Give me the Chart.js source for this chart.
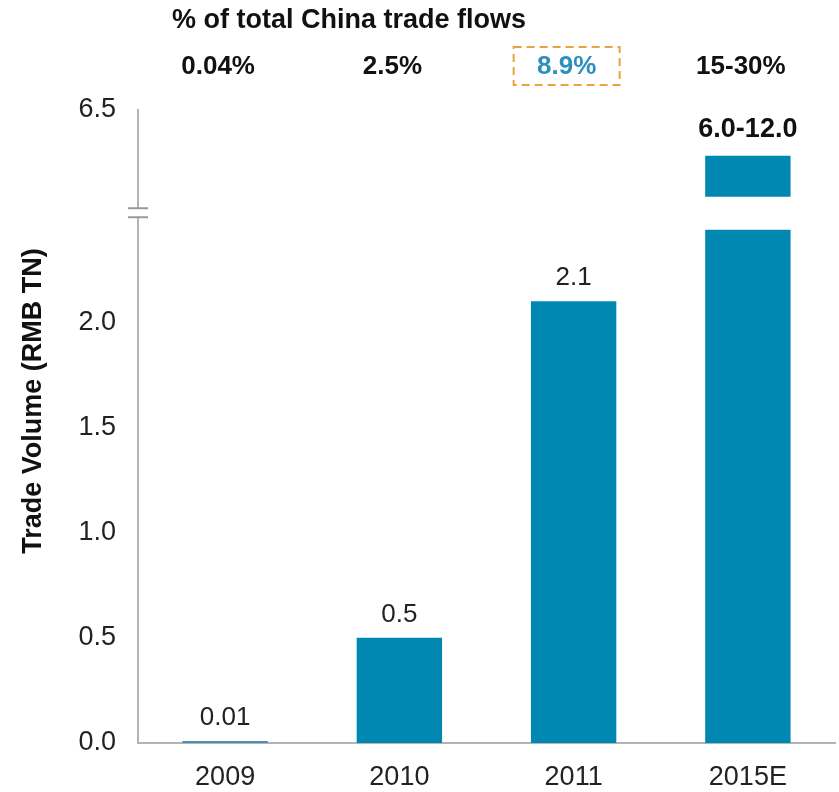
<!DOCTYPE html>
<html>
<head>
<meta charset="utf-8">
<title>Trade Volume (RMB TN)</title>
<script src="https://cdn.jsdelivr.net/npm/chart.js@4.4.0/dist/chart.umd.min.js"></script>
<style>
  html, body { margin: 0; padding: 0; background: #fff; }
  #wrap { width: 839px; height: 792px; }
</style>
</head>
<body>
<div id="wrap"><canvas id="tradeChart" width="839" height="792"></canvas></div>
<script>
  // ---------- data ----------
  const years = ['2009', '2010', '2011', '2015E'];
  const tradeVolume = [0.01, 0.5, 2.1, 6.0];
  const volumeLabels = ['0.01', '0.5', '2.1', '6.0-12.0'];
  const shareOfTrade = ['0.04%', '2.5%', '8.9%', '15-30%'];
  const yTicks = [0, 0.5, 1.0, 1.5, 2.0, 6.5];

  // broken axis: everything between breakLow and breakHigh is cut out,
  // the part above breakHigh is drawn compressed
  const breakLow = 2.52;
  const breakHigh = 5.38;
  const upperRatio = 0.436;

  const BAR_COLOR = '#0088b3';
  const barColors = ['#4a92b4', BAR_COLOR, BAR_COLOR, BAR_COLOR];
  const AXIS_COLOR = '#b4b4b4';
  const FONT = "'Liberation Sans', Arial, sans-serif";

  class BrokenLinearScale extends Chart.LinearScale {
    toVirtual(v) {
      if (v <= breakLow) return v;
      if (v >= breakHigh) return breakLow + (v - breakHigh) * upperRatio;
      return breakLow;
    }
    fromVirtual(u) {
      if (u <= breakLow) return u;
      return breakHigh + (u - breakLow) / upperRatio;
    }
    getPixelForValue(value) {
      const lo = this.toVirtual(this.min), hi = this.toVirtual(this.max);
      return this.getPixelForDecimal((this.toVirtual(value) - lo) / (hi - lo));
    }
    getValueForPixel(pixel) {
      const lo = this.toVirtual(this.min), hi = this.toVirtual(this.max);
      return this.fromVirtual(lo + this.getDecimalForPixel(pixel) * (hi - lo));
    }
  }
  BrokenLinearScale.id = 'brokenLinear';
  BrokenLinearScale.defaults = Chart.LinearScale.defaults;
  Chart.register(BrokenLinearScale);

  // labels, axis break, header row
  const decorations = {
    id: 'decorations',
    afterDatasetsDraw(chart) {
      const ctx = chart.ctx;
      const x = chart.scales.x, y = chart.scales.y;
      const meta = chart.getDatasetMeta(0);
      const breakY = y.getPixelForValue(breakLow);

      ctx.save();
      // white gap through the bar that crosses the break
      meta.data.forEach((bar, i) => {
        if (tradeVolume[i] > breakHigh) {
          ctx.fillStyle = '#fff';
          ctx.fillRect(bar.x - bar.width / 2 - 1, breakY - 16, bar.width + 2, 33);
        }
      });

      // break marks on the y axis
      const ax = y.right;
      ctx.fillStyle = '#fff';
      ctx.fillRect(ax - 3, breakY - 4, 6, 8);
      ctx.strokeStyle = '#999';
      ctx.lineWidth = 2;
      [-4.5, 4.5].forEach(d => {
        ctx.beginPath();
        ctx.moveTo(ax - 10, breakY + d);
        ctx.lineTo(ax + 10, breakY + d);
        ctx.stroke();
      });

      // value labels above bars
      ctx.textAlign = 'center';
      ctx.textBaseline = 'alphabetic';
      meta.data.forEach((bar, i) => {
        const big = tradeVolume[i] > breakHigh;
        ctx.font = (big ? 'bold 27px ' : '26px ') + FONT;
        ctx.fillStyle = big ? '#111' : '#222';
        ctx.fillText(volumeLabels[i], bar.x, bar.y - (big ? 19 : 16));
      });

      // y axis title
      ctx.save();
      ctx.translate(34, 401);
      ctx.rotate(-Math.PI / 2);
      ctx.textBaseline = 'middle';
      ctx.font = 'bold 27px ' + FONT;
      ctx.fillStyle = '#111';
      ctx.fillText('Trade Volume (RMB TN)', 0, 0);
      ctx.restore();

      // header
      ctx.textAlign = 'left';
      ctx.textBaseline = 'middle';
      ctx.font = 'bold 27px ' + FONT;
      ctx.fillStyle = '#111';
      ctx.fillText('% of total China trade flows', 172, 21);

      ctx.textAlign = 'center';
      ctx.font = 'bold 26px ' + FONT;
      years.forEach((yr, i) => {
        const cx = x.getPixelForValue(i) - 7;
        const hi = i === 2;
        ctx.fillStyle = hi ? '#2b8fc0' : '#111';
        ctx.fillText(shareOfTrade[i], cx, 67);
        if (hi) {
          ctx.strokeStyle = '#e9a53c';
          ctx.lineWidth = 2;
          ctx.setLineDash([8, 5]);
          ctx.strokeRect(cx - 53, 47, 106, 38);
          ctx.setLineDash([]);
        }
      });
      ctx.restore();
    }
  };

  new Chart(document.getElementById('tradeChart'), {
    type: 'bar',
    data: {
      labels: years,
      datasets: [{
        data: tradeVolume,
        backgroundColor: barColors,
        borderWidth: 0,
        categoryPercentage: 1.0,
        barPercentage: 0.49
      }]
    },
    options: {
      responsive: false,
      animation: false,
      layout: { padding: { top: 110, left: 0, right: 4, bottom: 0 } },
      plugins: { legend: { display: false }, tooltip: { enabled: false } },
      scales: {
        x: {
          grid: { display: false, drawTicks: false },
          border: { display: true, color: AXIS_COLOR, width: 2 },
          ticks: { color: '#222', font: { family: FONT, size: 27 }, padding: 18 },
          afterFit: (s) => { s.height = 49; }
        },
        y: {
          type: 'brokenLinear',
          min: 0,
          max: 6.5,
          grid: { display: false, drawTicks: false },
          border: { display: true, color: AXIS_COLOR, width: 2 },
          afterBuildTicks: (s) => { s.ticks = yTicks.map(v => ({ value: v })); },
          ticks: {
            color: '#222',
            font: { family: FONT, size: 27 },
            padding: 22,
            callback: (v) => Number(v).toFixed(1)
          },
          afterFit: (s) => { s.width = 138; }
        }
      }
    },
    plugins: [decorations]
  });
</script>
</body>
</html>
